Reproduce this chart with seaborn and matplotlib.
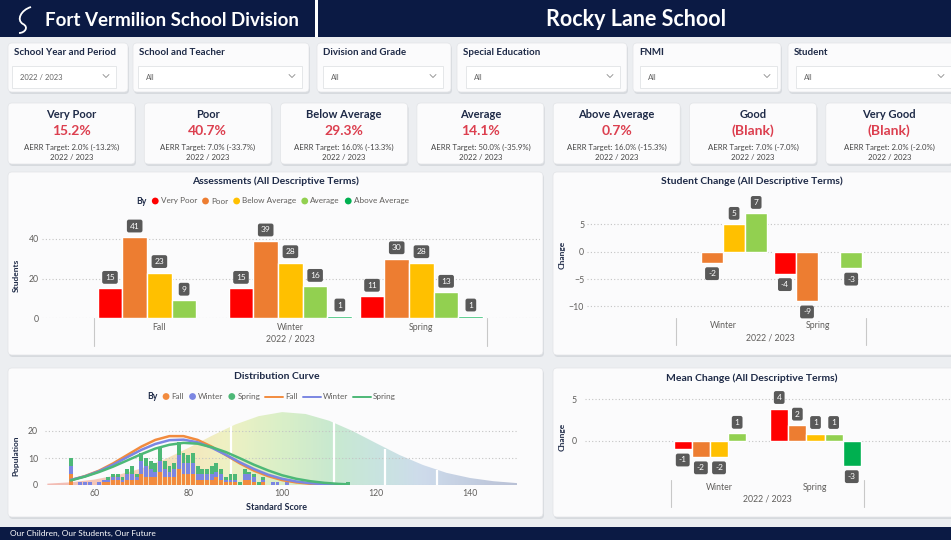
import numpy as np
import pandas as pd
import seaborn as sns
import matplotlib.pyplot as plt
import matplotlib.transforms as mtransforms
from matplotlib.patches import FancyBboxPatch, Rectangle, PathPatch
from matplotlib.path import Path
from matplotlib.colors import LinearSegmentedColormap

# ---- data ----
terms = ["Very Poor", "Poor", "Below Average", "Average", "Above Average"]
term_colors = ["#ff0000", "#ed7d31", "#ffc000", "#92d050", "#00b050"]
periods = ["Fall", "Winter", "Spring"]
students_fall = [15, 41, 23, 9, None]
students_winter = [15, 39, 28, 16, 1]
students_spring = [11, 30, 28, 13, 1]

change_periods = ["Winter", "Spring"]
change_terms = terms[:4]
student_change_winter = [None, -2, 5, 7]
student_change_spring = [-4, -9, None, -3]
mean_change_winter = [-0.96, -1.9, -1.9, 0.92, None]
mean_change_spring = [3.9, 1.9, 0.9, 0.9, -2.96]

kpi_terms = ["Very Poor", "Poor", "Below Average", "Average", "Above Average", "Good", "Very Good"]
kpi_values = ["15.2%", "40.7%", "29.3%", "14.1%", "0.7%", "(Blank)", "(Blank)"]
kpi_targets = ["AERR Target: 2.0% (-13.2%)", "AERR Target: 7.0% (-33.7%)", "AERR Target: 16.0% (-13.3%)",
               "AERR Target: 50.0% (-35.9%)", "AERR Target: 16.0% (-15.3%)", "AERR Target: 7.0% (-7.0%)",
               "AERR Target: 2.0% (-2.0%)"]
year_label = "2022 / 2023"

filter_titles = ["School Year and Period", "School and Teacher", "Division and Grade",
                 "Special Education", "FNMI", "Student"]
filter_values = ["2022 / 2023", "All", "All", "All", "All", "All"]

score = [55, 57, 58, 59, 61, 62, 63, 64, 65, 66, 67, 68, 69, 70, 71, 72, 73, 74, 75, 76, 77, 78, 79, 80,
         81, 82, 83, 84, 85, 86, 87, 88, 89, 90, 91, 92, 93, 94, 95, 96, 98, 99, 101, 109, 114]
pop_fall = [4, 0, 0, 0, 0, 1, 1, 2, 2, 1, 2, 2, 2, 4, 3, 3, 3, 5, 3, 3, 3, 6, 4, 4,
            4, 2, 2, 2, 2, 3, 2, 1, 1, 1, 0, 2, 2, 1, 0, 1, 0, 0, 0, 0, 0]
pop_winter = [3, 1, 1, 1, 1, 1, 1, 1, 1, 1, 2, 2, 1, 5, 4, 3, 2, 4, 3, 2, 3, 5, 4, 4,
              4, 2, 2, 2, 2, 2, 2, 1, 1, 1, 0, 2, 2, 2, 0, 1, 1, 1, 1, 0, 0]
pop_spring = [3, 0, 0, 0, 0, 0, 1, 1, 1, 1, 2, 3, 1, 3, 3, 3, 3, 5, 3, 2, 2, 5, 4, 3,
              4, 3, 2, 2, 3, 3, 2, 1, 2, 2, 1, 2, 1, 1, 1, 1, 0, 0, 0, 1, 1]

curve_x = [55, 58, 61, 64, 67, 70, 73, 76, 79, 82, 85, 88, 91, 94, 97, 100, 103, 106, 109, 112, 114]
fit_fall = [1.8, 3.3, 5.3, 8.0, 11.1, 14.2, 16.7, 18.1, 18.1, 16.7, 14.2, 11.1, 8.0, 5.3, 3.3, 1.8,
            0.95, 0.46, 0.2, 0.08, 0.05]
fit_winter = [1.9, 3.2, 5.1, 7.5, 10.3, 13.0, 15.2, 16.6, 16.8, 15.8, 13.8, 11.2, 8.4, 5.9, 3.8, 2.3,
              1.3, 0.66, 0.32, 0.14, 0.08]
fit_spring = [1.7, 3.1, 4.8, 6.8, 9.1, 11.4, 13.5, 14.9, 15.6, 15.3, 14.0, 12.2, 9.9, 7.5, 5.4, 3.6,
              2.3, 1.4, 0.8, 0.42, 0.25]

bell_x = [50, 55, 60, 65, 70, 75, 80, 85, 90, 95, 100, 105, 110, 115, 120, 125, 130, 135, 140, 145, 150]
bell_y = [0.5, 1.0, 2.0, 3.7, 6.1, 9.5, 13.7, 18.2, 22.4, 25.5, 27.0, 26.3, 23.8, 20.0, 15.5, 11.1,
          7.4, 4.5, 2.6, 1.4, 0.7]
band_edges = [89, 111, 122, 133]
band_tops = [21.8, 23.4, 13.5, 5.6]

period_colors = {"Fall": "#f28b3e", "Winter": "#7b86e2", "Spring": "#4db877"}

# ---- style ----
sns.set_theme(style="white")
plt.rcParams['font.family'] = ['Lato', 'DejaVu Sans']
NAVY = "#0b1a44"
TXT = "#1e2a47"
GREY = "#605e5c"

W, H = 951, 540
fig = plt.figure(figsize=(W / 100, H / 100), dpi=100)
fig.patch.set_facecolor("#eceef1")
bg = fig.add_axes([0, 0, 1, 1], zorder=0)
bg.set_xlim(0, W)
bg.set_ylim(H, 0)
bg.axis('off')
renderer = fig.canvas.get_renderer()


def card(x0, y0, x1, y1, fc="#fbfbfc", r=4):
    bg.add_patch(FancyBboxPatch((x0 + 1, y0 + 2), x1 - x0, y1 - y0, boxstyle=f"round,pad=0,rounding_size={r}",
                                fc="#c6cad0", ec="none", alpha=0.55))
    bg.add_patch(FancyBboxPatch((x0, y0), x1 - x0, y1 - y0, boxstyle=f"round,pad=0,rounding_size={r}",
                                fc=fc, ec="#e2e4e7", lw=0.5))


def chevron(cx, cy):
    bg.plot([cx - 3, cx, cx + 3], [cy - 1.5, cy + 1.5, cy - 1.5], color="#8a8a8a", lw=0.6)


def px_axes(x0, y0, x1, y1):
    ax = fig.add_axes([x0 / W, 1 - y1 / H, (x1 - x0) / W, (y1 - y0) / H], zorder=2)
    ax.set_facecolor('none')
    for s in ax.spines.values():
        s.set_visible(False)
    return ax


def text_width(s, **kw):
    t = bg.text(0, 0, s, **kw)
    w = t.get_window_extent(renderer).width
    t.remove()
    return w


def legend_row(cx, y, items):
    # items: (kind, color, label) with kind "dot" or "line"
    fs = 5.9
    parts = [text_width("By", fontsize=6.3, fontweight='bold') + 5]
    for kind, c, lab in items:
        parts.append((7 if kind == "dot" else 18) + 2 + text_width(lab, fontsize=fs) + 5)
    x = cx - sum(parts) / 2
    bg.text(x, y, "By", fontsize=6.3, fontweight='bold', color=TXT, va='center')
    x += parts[0]
    for (kind, c, lab), w in zip(items, parts[1:]):
        if kind == "dot":
            bg.scatter([x + 3.5], [y], s=24, color=c, edgecolors='none')
            tx = x + 9
        else:
            bg.plot([x, x + 18], [y, y], color=c, lw=1.4)
            tx = x + 20
        bg.text(tx, y, lab, fontsize=fs, color=GREY, va='center')
        x += w


# ---- header & footer ----
bg.add_patch(Rectangle((0, 0), 315, 37, fc=NAVY, ec='none'))
bg.add_patch(Rectangle((315, 0), 3, 37, fc='white', ec='none'))
bg.add_patch(Rectangle((318, 0), W - 318, 37, fc=NAVY, ec='none'))
logo = Path([(31, 7), (21, 10), (16, 20), (23, 24), (29, 27), (25, 33), (19, 33)],
            [Path.MOVETO, Path.CURVE4, Path.CURVE4, Path.CURVE4, Path.CURVE4, Path.CURVE4, Path.CURVE4])
bg.add_patch(PathPatch(logo, fc='none', ec='white', lw=1.3))
bg.text(45, 20, "Fort Vermilion School Division", color='white', fontsize=13.5, fontweight='bold',
        va='center')
bg.text(636, 20, "Rocky Lane School", color='white', fontsize=15.5, fontweight='bold',
        ha='center', va='center')
bg.add_patch(Rectangle((0, 527), W, 13, fc=NAVY, ec='none'))
bg.text(10, 533.5, "Our Children, Our Students, Our Future", color='white', fontsize=6, va='center')

# ---- filters ----
filter_cards = [(8, 128), (133, 309), (317, 451), (457, 627), (633, 781), (788, 958)]
filter_boxes = [(12, 116), (138, 302), (323, 443), (466, 620), (640, 777), (796, 951)]
for (x0, x1), (d0, d1), t, v in zip(filter_cards, filter_boxes, filter_titles, filter_values):
    card(x0, 43, x1, 92)
    bg.text(x0 + 6, 52.5, t, fontsize=7, fontweight='bold', color=TXT, va='center')
    bg.add_patch(Rectangle((d0, 66), d1 - d0, 22, fc='white', ec='#e1e3e6', lw=0.6))
    bg.text(d0 + 8, 77, v, fontsize=5.5, color='#666666', va='center')
    chevron(d1 - 10, 76)

# ---- KPI cards ----
for i, (t, v, tg) in enumerate(zip(kpi_terms, kpi_values, kpi_targets)):
    x0 = 8 + i * 136.3
    card(x0, 103, x0 + 127, 164)
    cx = x0 + 63.5
    bg.text(cx, 114, t, fontsize=8, fontweight='bold', color=TXT, ha='center', va='center')
    bg.text(cx, 131, v, fontsize=10, fontweight='bold', color='#dc3f4f', ha='center', va='center')
    bg.text(cx, 147, tg, fontsize=5.6, color='#444444', ha='center', va='center')
    bg.text(cx, 157, year_label, fontsize=5.6, color='#444444', ha='center', va='center')

# ---- chart panels ----
card(8, 172, 543, 355)
card(553, 172, 958, 355)
card(8, 368, 543, 517)
card(553, 368, 958, 517)
bg.text(275.5, 181, "Assessments (All Descriptive Terms)", fontsize=7.5, fontweight='bold', color=TXT,
        ha='center', va='center')
bg.text(752, 181, "Student Change (All Descriptive Terms)", fontsize=7.5, fontweight='bold', color=TXT,
        ha='center', va='center')
bg.text(277, 376.5, "Distribution Curve", fontsize=7.5, fontweight='bold', color=TXT,
        ha='center', va='center')
bg.text(752, 378, "Mean Change (All Descriptive Terms)", fontsize=7.5, fontweight='bold', color=TXT,
        ha='center', va='center')

legend_row(275, 201, [("dot", c, t) for t, c in zip(terms, term_colors)])
legend_row(274, 396.5, [("dot", period_colors[p], p) for p in periods]
           + [("line", period_colors[p], p) for p in periods])

# axis titles
bg.text(16, 275, "Students", fontsize=6, fontweight='bold', color=TXT, rotation=90, ha='center', va='center')
bg.text(562, 255, "Change", fontsize=6, fontweight='bold', color=TXT, rotation=90, ha='center', va='center')
bg.text(562, 437, "Change", fontsize=6, fontweight='bold', color=TXT, rotation=90, ha='center', va='center')
bg.text(16, 456, "Population", fontsize=6, fontweight='bold', color=TXT, rotation=90, ha='center', va='center')
bg.text(277, 507, "Standard Score", fontsize=6.5, fontweight='bold', color=TXT, ha='center', va='center')


def style_axis(ax, yticks, pad):
    ax.set_yticks(yticks)
    ax.set_xticks([])
    ax.tick_params(axis='y', length=0, labelsize=6.3, labelcolor=GREY, pad=pad)
    ax.grid(axis='y', ls=(0, (1, 2)), color='#c4c4c4', lw=0.8)
    ax.grid(axis='x', visible=False)
    ax.set_axisbelow(True)
    ax.set_xlabel("")
    ax.set_ylabel("")


def category_axis(ax, cats, y_lab, y_line0, y_line1, y_year):
    trans = mtransforms.blended_transform_factory(ax.transData, bg.transData)
    for i, c in enumerate(cats):
        ax.text(i, y_lab, c, transform=trans, fontsize=6.3, color=GREY, ha='center', va='center')
    n = len(cats)
    for xe in [-0.5, n - 0.5]:
        ax.plot([xe, xe], [y_line0, y_line1], transform=trans, color='#c8c8c8', lw=0.8, clip_on=False)
    ax.text((n - 1) / 2, y_year, year_label, transform=trans, fontsize=6.3, color=GREY,
            ha='center', va='center')


def label_bars(ax, off=10):
    for bar in ax.patches:
        h = bar.get_height()
        if np.isnan(h) or h == 0:
            continue
        x = bar.get_x() + bar.get_width() / 2
        ax.annotate(f"{h:.0f}", (x, h), xytext=(0, off if h > 0 else -off), textcoords='offset pixels',
                    ha='center', va='center', fontsize=6, color='white', annotation_clip=False,
                    bbox=dict(boxstyle='round,pad=0.35,rounding_size=0.25', fc='#595959', ec='none'))


# ---- Assessments ----
ass = pd.DataFrame({
    'period': np.repeat(periods, len(terms)),
    'term': terms * len(periods),
    'students': students_fall + students_winter + students_spring,
}).dropna()
ax1 = px_axes(42, 223.2, 540, 318)
sns.barplot(data=ass, x='period', y='students', hue='term', order=periods, hue_order=terms,
            palette=term_colors, width=0.943, saturation=1, errorbar=None, legend=False, ax=ax1)
ax1.set_xlim(-0.896, 2.905)
ax1.set_ylim(0, 48)
style_axis(ax1, [0, 20, 40], 2)
category_axis(ax1, periods, 327, 318, 346, 339)
label_bars(ax1, 11)

# ---- Student change ----
sc = pd.DataFrame({
    'period': np.repeat(change_periods, len(change_terms)),
    'term': change_terms * 2,
    'change': student_change_winter + student_change_spring,
}).dropna()
ax2 = px_axes(587, 202.5, 950, 311.9)
sns.barplot(data=sc, x='period', y='change', hue='term', order=change_periods, hue_order=change_terms,
            palette=term_colors[:4], width=0.93, saturation=1, errorbar=None, legend=False, ax=ax2)
ax2.set_xlim(-1.432, 2.389)
ax2.set_ylim(-11, 9)
style_axis(ax2, [-10, -5, 0, 5], 2)
category_axis(ax2, change_periods, 326, 318, 345, 338)
label_bars(ax2, 11)

# ---- Mean change ----
mc = pd.DataFrame({
    'period': np.repeat(change_periods, len(terms)),
    'term': terms * 2,
    'change': mean_change_winter + mean_change_spring,
}).dropna()
ax4 = px_axes(585, 391, 950, 478.5)
sns.barplot(data=mc, x='period', y='change', hue='term', order=change_periods, hue_order=terms,
            palette=term_colors, width=0.94, saturation=1, errorbar=None, legend=False, ax=ax4)
ax4.set_xlim(-1.389, 2.394)
ax4.set_ylim(-4.5, 6)
style_axis(ax4, [0, 5], 6)
category_axis(ax4, change_periods, 487, 480, 507, 499)
label_bars(ax4, 11)

# ---- Distribution curve ----
ax3 = px_axes(45, 406.7, 517, 485)
bell_cmap = LinearSegmentedColormap.from_list("bell", [
    (0.0, "#f3b4ac"), (0.15, "#f5c6b1"), (0.28, "#f6e3b5"), (0.38, "#eef0bd"), (0.5, "#d6eec2"),
    (0.6, "#c4e8ca"), (0.7, "#c3e2dc"), (0.8, "#c9d8ea"), (1.0, "#b2bbd2")])
grad = np.linspace(0, 1, 256).reshape(1, -1)
im = ax3.imshow(grad, extent=[bell_x[0], bell_x[-1], 0, max(bell_y)], aspect='auto', cmap=bell_cmap,
                origin='lower', alpha=0.9, zorder=0)
poly = ax3.fill_between(bell_x, bell_y, 0, facecolor='none', edgecolor='none')
im.set_clip_path(poly.get_paths()[0], transform=ax3.transData)
ax3.vlines(band_edges, 0, band_tops, colors='white', lw=1.6, zorder=1)

bottom = np.zeros(len(score))
for p, vals in zip(periods, [pop_fall, pop_winter, pop_spring]):
    ax3.bar(score, vals, bottom=bottom, width=0.82, color=period_colors[p], edgecolor='none',
            linewidth=0, zorder=2)
    bottom = bottom + np.array(vals)
for p, fit in zip(periods, [fit_fall, fit_winter, fit_spring]):
    sns.lineplot(x=curve_x, y=fit, color=period_colors[p], lw=1.8, ax=ax3, zorder=3)

ax3.set_xlim(49.5, 150)
ax3.set_ylim(0, 29)
ax3.set_yticks([0, 10, 20])
ax3.set_xticks([60, 80, 100, 120, 140])
ax3.tick_params(length=0, labelsize=6.3, labelcolor=GREY)
ax3.tick_params(axis='y', pad=5)
ax3.tick_params(axis='x', pad=3)
ax3.grid(axis='y', ls=(0, (1, 2)), color='#c4c4c4', lw=0.8)
ax3.grid(axis='x', visible=False)
ax3.set_axisbelow(True)

fig.savefig("out.png", dpi=100, facecolor=fig.get_facecolor())
